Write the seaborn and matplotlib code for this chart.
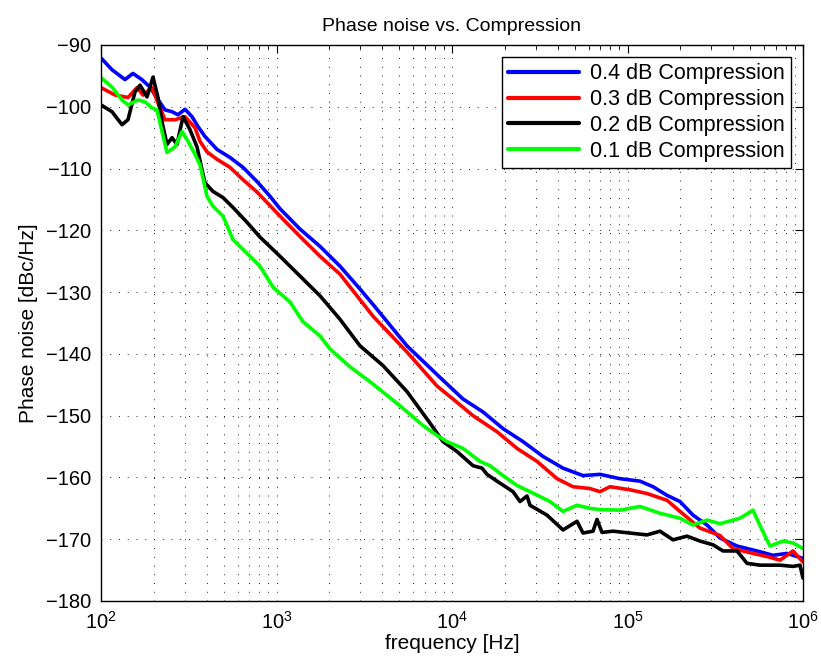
import numpy as np
import pandas as pd
import matplotlib
matplotlib.use("Agg")
import matplotlib.pyplot as plt
import seaborn as sns
from matplotlib.ticker import LogLocator, NullFormatter, NullLocator

# ---------------- data ----------------
series_names = ["0.4 dB Compression", "0.3 dB Compression",
                "0.2 dB Compression", "0.1 dB Compression"]
series_colors = ["#0000ff", "#ff0000", "#000000", "#00ff00"]

blue_f = [100, 115.5, 137, 152, 171, 190, 208.5, 231.5, 254, 274.6, 301, 330, 357, 391, 458,
          543, 644, 774, 919, 1047, 1361, 1770, 2300, 2991, 3548, 5540, 8540, 11550, 15020,
          19530, 25390, 33000, 42910, 55780, 69720, 90630, 117800, 139700, 168000, 199100,
          236200, 283800, 336600, 420700, 546900, 674800, 810600, 1e6]
blue_db = [-92.1, -94.0, -95.6, -94.6, -95.6, -96.8, -98.6, -100.5, -100.8, -101.3, -100.4,
           -101.6, -103.2, -104.8, -106.9, -108.2, -109.8, -112.1, -114.5, -116.5, -119.8,
           -122.6, -125.8, -129.5, -132.0, -138.7, -143.8, -147.3, -149.4, -152.1, -154.2,
           -156.6, -158.5, -159.7, -159.5, -160.2, -160.6, -161.5, -162.9, -163.9, -166.1,
           -167.7, -169.8, -171.1, -171.9, -172.6, -172.3, -173.1]

red_f = [100, 120.2, 142.5, 160.4, 173.5, 195.3, 211.2, 231.5, 264.1, 301, 343.3, 366.6, 401.8,
         458, 543, 644, 774, 919, 1047, 1361, 1770, 2300, 2875, 3548, 5540, 8212, 10130, 13170,
         18050, 23470, 30500, 39660, 48920, 61130, 69720, 79500, 103300, 129100, 168000, 199100,
         258900, 336600, 399000, 518900, 623600, 739500, 877000, 1e6]
red_db = [-96.9, -98.1, -98.5, -96.9, -98.1, -96.9, -99.4, -102.1, -102.1, -101.6, -103.4,
          -105.6, -107.3, -108.5, -109.8, -111.8, -113.8, -116.0, -117.7, -121.0, -124.2,
          -127.1, -130.6, -133.9, -139.7, -145.2, -147.3, -150.0, -152.6, -155.3, -157.4,
          -160.2, -161.5, -161.8, -162.3, -161.5, -162.0, -162.6, -163.7, -165.5, -168.2,
          -169.4, -171.5, -172.3, -172.8, -173.4, -171.9, -173.7]

black_f = [100, 115.5, 131.7, 142.5, 156.2, 166.9, 182.9, 197.9, 211.2, 222.6, 237.7, 254,
           271.0, 293.3, 321.4, 352.4, 376.3, 391, 434.6, 495.7, 565.1, 679.2, 805.4, 1047,
           1361, 1770, 2300, 2991, 4045, 5540, 7493, 8886, 10680, 13170, 14830, 15830, 18050,
           22260, 24410, 26760, 27820, 34780, 42910, 51570, 55780, 63600, 67030, 71550, 82680,
           103300, 129100, 153200, 181700, 218300, 258900, 307000, 350100, 420700, 479700,
           568800, 739500, 877000, 961400, 1e6]
black_db = [-99.7, -100.8, -102.9, -102.1, -97.6, -96.5, -98.4, -95.2, -98.5, -102.4, -106.1,
            -105.0, -106.1, -101.6, -103.7, -106.5, -110.2, -112.3, -113.7, -114.7, -116.3,
            -118.7, -121.1, -124.2, -127.4, -130.6, -134.4, -138.7, -141.9, -146.1, -151.2,
            -154.2, -155.8, -158.1, -158.5, -159.5, -160.6, -162.3, -163.9, -163.0, -164.5,
            -166.1, -168.5, -167.1, -169.0, -168.7, -166.8, -168.9, -168.7, -169.0, -169.3,
            -168.7, -170.1, -169.5, -170.3, -170.9, -171.9, -171.9, -173.9, -174.2, -174.2,
            -174.4, -174.2, -176.3]

green_f = [100, 115.5, 131.7, 142.5, 162.5, 178.1, 195.3, 208.5, 222.6, 237.7, 264.1, 289.4,
           313.1, 343.3, 366.6, 401.8, 434.6, 495.7, 565.1, 805.4, 955.2, 1194, 1416, 1770, 2017,
           2623, 3410, 5055, 6835, 8212, 9366, 11550, 14440, 16460, 19530, 23470, 27820, 36170,
           42910, 51570, 61130, 69720, 90630, 117800, 153200, 199100, 236200, 283800, 336600,
           437500, 518900, 584000, 648600, 769100, 877000, 1e6]
green_db = [-95.3, -96.8, -98.9, -99.7, -98.9, -99.2, -100.2, -100.5, -104.0, -107.4, -106.5,
            -104.0, -105.6, -107.7, -109.4, -114.5, -116.1, -117.7, -121.5, -125.8, -129.2,
            -131.6, -134.8, -137.1, -139.2, -142.1, -144.5, -148.4, -151.6, -153.2, -154.2,
            -155.3, -157.4, -158.1, -159.7, -161.3, -162.3, -163.9, -165.5, -164.5, -165.0,
            -165.2, -165.3, -164.7, -165.8, -166.6, -167.7, -166.9, -167.5, -166.6, -165.3,
            -168.5, -171.1, -170.3, -170.6, -171.5]

x_ticks = [1e2, 1e3, 1e4, 1e5, 1e6]
y_ticks = list(range(-180, -89, 10))

# ---------------- build table ----------------
frames = []
for name, f, d in zip(series_names,
                      [blue_f, red_f, black_f, green_f],
                      [blue_db, red_db, black_db, green_db]):
    frames.append(pd.DataFrame({"freq": f, "pn": d, "series": name}))
df = pd.concat(frames, ignore_index=True)

# ---------------- style ----------------
sns.set_theme(style="white")
plt.rcParams["font.family"] = ["Liberation Sans", "DejaVu Sans"]
plt.rcParams["mathtext.fontset"] = "custom"
plt.rcParams["mathtext.rm"] = "Liberation Sans"
plt.rcParams["mathtext.it"] = "Liberation Sans:italic"
plt.rcParams["mathtext.bf"] = "Liberation Sans:bold"
plt.rcParams["text.color"] = "black"
plt.rcParams["axes.labelcolor"] = "black"
plt.rcParams["xtick.color"] = "black"
plt.rcParams["ytick.color"] = "black"

fig = plt.figure(figsize=(8.21, 6.64), dpi=100)
ax = fig.add_axes([101 / 821, 1 - 601 / 664, 702 / 821, 556 / 664])

sns.lineplot(data=df, x="freq", y="pn", hue="series", hue_order=series_names,
             palette=dict(zip(series_names, series_colors)), estimator=None,
             sort=False, units="series", linewidth=2.6, ax=ax)

ax.set_xscale("log")
ax.set_xlim(1e2, 1e6)
ax.set_ylim(-180, -90)
ax.set_xticks(x_ticks)
ax.xaxis.set_minor_locator(LogLocator(base=10, subs=np.arange(2, 10)))
ax.xaxis.set_minor_formatter(NullFormatter())
ax.set_yticks(y_ticks)
ax.yaxis.set_minor_locator(NullLocator())

grid_kw = dict(color="#202020", linestyle=(0, (1, 8)), linewidth=0.7)
ax.grid(True, which="major", axis="both", **grid_kw)
ax.grid(True, which="minor", axis="x", **grid_kw)
ax.set_axisbelow(True)

ax.tick_params(which="both", direction="in", top=True, right=True,
               colors="black", labelcolor="black", labelsize=14.5)
ax.tick_params(which="major", length=6, width=0.8, pad=7)
ax.tick_params(which="minor", length=3, width=0.6)
for s in ax.spines.values():
    s.set_visible(True)
    s.set_color("black")
    s.set_linewidth(1.0)

ax.set_xlabel("frequency [Hz]", fontsize=15, labelpad=1, color="black")
ax.set_ylabel("Phase noise [dBc/Hz]", fontsize=15, labelpad=6, color="black")
ax.set_title("Phase noise vs. Compression", fontsize=14, pad=10, color="black")

handles, labels = ax.get_legend_handles_labels()
leg = ax.legend(handles, labels, loc="upper right", fontsize=15.5, frameon=True,
                fancybox=False, edgecolor="black", framealpha=1, handlelength=3.3,
                handletextpad=0.5, labelspacing=0.22, borderpad=0.3,
                borderaxespad=0.55, labelcolor="black")
leg.get_frame().set_linewidth(1.0)
for ln in leg.get_lines():
    ln.set_linewidth(3)

fig.savefig("out.png", dpi=100)
